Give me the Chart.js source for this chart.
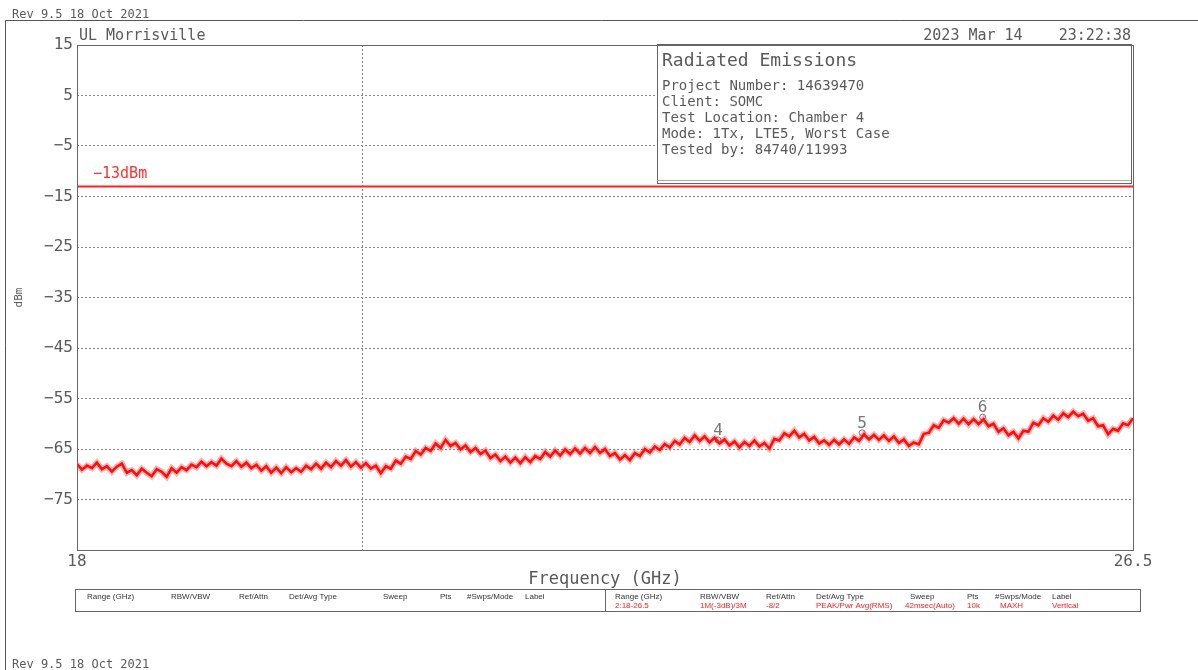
<!DOCTYPE html>
<html>
<head>
<meta charset="utf-8">
<title>Radiated Emissions</title>
<script src="https://cdn.jsdelivr.net/npm/chart.js@4/dist/chart.umd.min.js"></script>
<style>
  html, body { margin: 0; padding: 0; background: #fff; }
  #wrap { width: 1198px; height: 670px; }
</style>
</head>
<body>
<div id="wrap"><canvas id="plot"></canvas></div>
<script>
// sweep 2: 18 - 26.5 GHz, peak/max-hold trace in dBm
const freqStart = 18;
const freqStop = 26.5;
const traceDbm = [
  -68.0, -69.1, -68.3, -68.8, -67.7, -69.0, -68.4, -69.5, -68.5, -67.9,
  -69.7, -69.2, -70.2, -68.9, -69.7, -70.4, -69.0, -69.5, -70.5, -68.8,
  -69.7, -68.6, -69.2, -68.1, -68.6, -67.5, -68.4, -67.6, -68.3, -66.9,
  -67.9, -68.4, -67.4, -68.5, -67.7, -68.8, -68.1, -69.3, -68.4, -69.7,
  -68.7, -69.8, -68.6, -69.6, -68.8, -69.5, -68.3, -69.0, -67.9, -68.9,
  -67.7, -68.6, -67.4, -68.3, -67.2, -68.5, -67.6, -68.7, -67.8, -68.9,
  -68.3, -69.8, -68.4, -68.9, -67.3, -67.9, -66.5, -67.0, -65.4, -66.1,
  -64.8, -65.4, -63.9, -64.8, -63.2, -64.4, -63.8, -65.1, -64.3, -65.6,
  -64.8, -66.0, -65.3, -66.8, -66.1, -67.4, -66.5, -67.7, -66.7, -67.8,
  -66.6, -67.6, -66.4, -67.0, -65.6, -66.5, -65.3, -66.3, -65.1, -66.0,
  -64.9, -65.9, -64.8, -65.8, -64.6, -65.8, -65.0, -66.4, -65.8, -67.1,
  -66.2, -67.2, -65.8, -66.4, -65.0, -65.7, -64.5, -65.2, -64.0, -64.7,
  -63.4, -64.1, -62.8, -63.6, -62.3, -63.4, -62.5, -63.7, -62.8, -63.9,
  -63.1, -64.3, -63.5, -64.7, -63.6, -64.4, -63.3, -64.5, -63.8, -64.9,
  -63.0, -63.3, -61.9, -62.5, -61.4, -62.7, -62.0, -63.3, -62.6, -63.9,
  -63.3, -64.2, -63.2, -64.1, -63.1, -64.0, -62.7, -63.4, -62.1, -63.1,
  -62.2, -63.2, -62.3, -63.4, -62.5, -63.8, -63.1, -64.4, -63.7, -64.1,
  -62.0, -61.8, -60.3, -60.8, -59.3, -59.8, -58.9, -60.0, -59.0, -60.1,
  -59.1, -60.1, -59.1, -60.5, -60.0, -61.6, -60.9, -62.3, -61.6, -62.9,
  -61.4, -61.6, -59.8, -60.3, -58.9, -59.6, -58.4, -59.2, -57.9, -58.7,
  -57.6, -58.5, -58.0, -59.4, -58.9, -60.5, -60.3, -62.1, -61.0, -61.4,
  -59.9, -60.3, -58.9
];

const limitDbm = -13;
const limitLabel = '\u221213dBm';

const markerNames = ['4', '5', '6'];
const markerFreq = [23.16, 24.32, 25.29];
const markerDbm = [-63.2, -61.8, -58.7];

const yMin = -85;
const yMax = 15;
const yStep = 10;
const xTickValues = [18, 20.3, 26.5];
const dividerGHz = 20.3;

const headerLeft = 'UL Morrisville';
const headerRight = '2023 Mar 14    23:22:38';
const revText = 'Rev 9.5 18 Oct 2021';
const boxTitle = 'Radiated Emissions';
const boxLines = [
  'Project Number: 14639470',
  'Client: SOMC',
  'Test Location: Chamber 4',
  'Mode: 1Tx, LTE5, Worst Case',
  'Tested by: 84740/11993'
];
const tableHeads = ['Range (GHz)', 'RBW/VBW', 'Ref/Attn', 'Det/Avg Type', 'Sweep', 'Pts', '#Swps/Mode', 'Label'];
const tableValues = ['2:18-26.5', '1M(-3dB)/3M', '-8/2', 'PEAK/Pwr Avg(RMS)', '42msec(Auto)', '10k', 'MAXH', 'Vertical'];

const mono = '"DejaVu Sans Mono", monospace';
const ink = '#5a5a5a';

const stepGHz = (freqStop - freqStart) / (traceDbm.length - 1);
const tracePoints = traceDbm.map((v, i) => ({ x: freqStart + i * stepGHz, y: v }));
const limitPoints = [{ x: freqStart, y: limitDbm }, { x: freqStop, y: limitDbm }];
const markerPoints = markerFreq.map((f, i) => ({ x: f, y: markerDbm[i] }));

const decor = {
  id: 'decor',
  beforeDatasetsDraw(chart) {
    const { ctx, chartArea: a } = chart;
    // summary box in the upper right of the plot
    const bx = 657, by = a.top - 1, bw = a.right - 2 - bx, bh = 139;
    ctx.save();
    ctx.fillStyle = '#fff';
    ctx.fillRect(bx, by, bw, bh);
    ctx.strokeStyle = '#666';
    ctx.lineWidth = 1;
    ctx.strokeRect(bx + 0.5, by + 0.5, bw, bh);
    ctx.strokeStyle = '#aaa';
    ctx.beginPath();
    ctx.moveTo(bx, by + bh - 2.5);
    ctx.lineTo(bx + bw, by + bh - 2.5);
    ctx.stroke();
    ctx.fillStyle = ink;
    ctx.textBaseline = 'alphabetic';
    ctx.textAlign = 'left';
    ctx.font = '18px ' + mono;
    ctx.fillText(boxTitle, 662, by + 22);
    ctx.font = '14px ' + mono;
    boxLines.forEach((t, i) => ctx.fillText(t, 662, by + 46 + i * 16));
    ctx.restore();
  },
  afterDraw(chart) {
    const { ctx, chartArea: a, scales } = chart;
    ctx.save();

    // plot frame
    ctx.strokeStyle = '#666';
    ctx.lineWidth = 1;
    ctx.strokeRect(Math.round(a.left) + 0.5, Math.round(a.top) + 0.5, Math.round(a.width), Math.round(a.height));

    // page frame
    ctx.strokeStyle = '#555';
    ctx.beginPath();
    ctx.moveTo(5.5, 670);
    ctx.lineTo(5.5, 20.5);
    ctx.lineTo(1198, 20.5);
    ctx.stroke();

    ctx.fillStyle = ink;
    ctx.font = '12px ' + mono;
    ctx.textAlign = 'left';
    ctx.fillText(revText, 12, 18);
    ctx.fillText(revText, 12, 668);

    ctx.font = '15px ' + mono;
    ctx.fillText(headerLeft, 79, 40);
    ctx.textAlign = 'right';
    ctx.fillText(headerRight, 1131, 40);

    // limit label
    ctx.textAlign = 'left';
    ctx.fillStyle = '#ff3030';
    ctx.font = '15px ' + mono;
    ctx.fillText(limitLabel, scales.x.getPixelForValue(freqStart) + 16, scales.y.getPixelForValue(limitDbm) - 8);

    // marker numbers
    ctx.fillStyle = '#777';
    ctx.textAlign = 'center';
    ctx.font = '16px ' + mono;
    chart.getDatasetMeta(3).data.forEach((pt, i) => {
      ctx.fillText(markerNames[i], pt.x, pt.y - 5);
    });

    // sweep settings table
    const tx = 75, ty = 589, tw = 1065, th = 22, mid = 605;
    ctx.strokeStyle = '#666';
    ctx.strokeRect(tx + 0.5, ty + 0.5, tw, th);
    ctx.beginPath();
    ctx.moveTo(mid + 0.5, ty);
    ctx.lineTo(mid + 0.5, ty + th);
    ctx.stroke();
    ctx.font = '8px "Liberation Sans", sans-serif';
    ctx.textAlign = 'left';
    const leftCols = [87, 171, 239, 289, 383, 440, 467, 525];
    const rightCols = [615, 700, 766, 816, 910, 967, 995, 1052];
    ctx.fillStyle = '#333';
    tableHeads.forEach((t, i) => {
      ctx.fillText(t, leftCols[i], ty + 10);
      ctx.fillText(t, rightCols[i], ty + 10);
    });
    ctx.fillStyle = '#ff2020';
    tableValues.forEach((t, i) => {
      ctx.fillText(t, rightCols[i] + (i === 4 ? -5 : i === 6 ? 5 : 0), ty + 19);
    });

    ctx.restore();
  }
};

new Chart(document.getElementById('plot'), {
  type: 'line',
  data: {
    datasets: [
      {
        // soft halo around the noisy trace
        label: 'Vertical halo',
        data: tracePoints,
        borderColor: 'rgba(255,40,40,0.35)',
        borderWidth: 6,
        pointRadius: 0,
        tension: 0
      },
      {
        label: 'Vertical',
        data: tracePoints,
        borderColor: '#ff0000',
        borderWidth: 2.6,
        pointRadius: 0,
        tension: 0
      },
      {
        label: 'Limit',
        data: limitPoints,
        borderColor: '#ff2020',
        borderWidth: 2,
        pointRadius: 0
      },
      {
        label: 'Markers',
        data: markerPoints,
        showLine: false,
        pointRadius: 3,
        pointStyle: 'circle',
        pointBorderColor: '#777',
        pointBackgroundColor: 'rgba(0,0,0,0)',
        pointBorderWidth: 1
      }
    ]
  },
  options: {
    responsive: true,
    maintainAspectRatio: false,
    animation: false,
    events: [],
    layout: { padding: { left: 0, top: 45, right: 65, bottom: 80 } },
    plugins: {
      legend: { display: false },
      tooltip: { enabled: false }
    },
    scales: {
      x: {
        type: 'linear',
        min: freqStart,
        max: freqStop,
        afterBuildTicks: s => { s.ticks = xTickValues.map(v => ({ value: v })); },
        afterFit: s => { s.height = 40; },
        ticks: {
          autoSkip: false,
          maxRotation: 0,
          padding: 2,
          color: ink,
          font: { family: mono, size: 16 },
          callback: v => (v === dividerGHz ? '' : String(v))
        },
        grid: {
          drawTicks: false,
          lineWidth: 1,
          color: c => (c.tick && c.tick.value === dividerGHz ? '#888' : 'rgba(0,0,0,0)')
        },
        border: { display: false, dash: [2, 2] },
        title: {
          display: true,
          text: 'Frequency (GHz)',
          color: ink,
          font: { family: mono, size: 17 },
          padding: { top: 0, bottom: 0 }
        }
      },
      y: {
        min: yMin,
        max: yMax,
        afterBuildTicks: s => {
          const t = [];
          for (let v = yMax; v >= yMin; v -= yStep) t.push({ value: v });
          s.ticks = t;
        },
        afterFit: s => { s.width = 77; },
        ticks: {
          padding: 4,
          color: ink,
          font: { family: mono, size: 16 },
          callback: v => (v === yMin ? '' : String(v).replace('-', '\u2212'))
        },
        grid: {
          drawTicks: false,
          lineWidth: 1,
          color: c => (c.tick && (c.tick.value === yMin || c.tick.value === yMax) ? 'rgba(0,0,0,0)' : '#888')
        },
        border: { display: false, dash: [2, 2] },
        title: {
          display: true,
          text: 'dBm',
          color: ink,
          font: { family: mono, size: 11 },
          padding: { top: 13, bottom: 0 }
        }
      }
    }
  },
  plugins: [decor]
});
</script>
</body>
</html>
